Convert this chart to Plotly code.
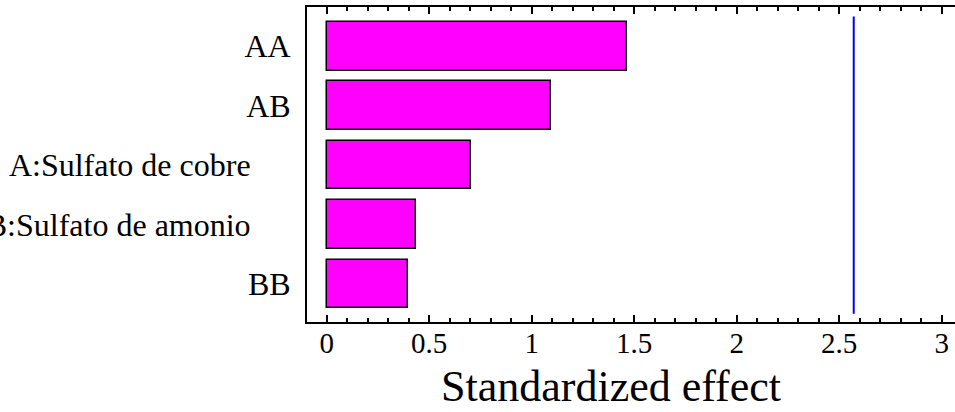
import plotly.graph_objects as go

# ---- data ----
terms = ["AA", "AB", "A:Sulfato de cobre", "B:Sulfato de amonio", "BB"]
effects = [1.463, 1.093, 0.704, 0.435, 0.398]
t_critical = 2.571
x_tick_values = [0, 0.5, 1, 1.5, 2, 2.5, 3]
x_tick_labels = ["0", "0.5", "1", "1.5", "2", "2.5", "3"]
x_title = "Standardized effect"

SERIF = "'Liberation Serif', 'Times New Roman', Times, serif"

# long labels are right-aligned further left in the original
pad = "\u00a0" * 5
y_tick_text = [t + pad if len(t) > 4 else t for t in terms]

fig = go.Figure()
fig.add_trace(go.Bar(
    x=effects, y=terms, orientation="h", width=0.82,
    marker=dict(color="#ff00ff", line=dict(color="black", width=1.5)),
    showlegend=False, hoverinfo="x+y",
))
# invisible helper trace so the top (mirrored) axis is drawn
fig.add_trace(go.Scatter(x=[x_tick_values[0]], y=[terms[0]], xaxis="x2", yaxis="y",
                         mode="markers", marker=dict(opacity=0),
                         showlegend=False, hoverinfo="skip"))

fig.add_shape(type="line", xref="x", yref="y",
              x0=t_critical, x1=t_critical, y0=-0.5, y1=len(terms) - 0.5,
              line=dict(color="#0000ff", width=2))

fig.update_layout(
    width=955, height=412,
    margin=dict(l=307, r=0, t=7, b=90),
    plot_bgcolor="white", paper_bgcolor="white",
    font=dict(family=SERIF, color="black"),
    bargap=0,
)

common_x = dict(
    range=[-0.096, 3.065],
    tickvals=x_tick_values,
    ticks="inside", ticklen=7, tickwidth=2, tickcolor="black",
    showline=True, linecolor="black", linewidth=2,
    showgrid=False, zeroline=False,
    minor=dict(dtick=0.1, ticks="inside", ticklen=4, tickwidth=2,
               tickcolor="black", showgrid=False),
)

fig.update_layout(
    xaxis=dict(**common_x, ticktext=x_tick_labels,
               tickfont=dict(size=29, family=SERIF, color="black"),
               ticklabelstandoff=-6),
    xaxis2=dict(**common_x, overlaying="x", side="top", anchor="y",
                showticklabels=False),
)

fig.update_yaxes(
    type="category", categoryorder="array", categoryarray=terms,
    range=[4.64, -0.66],
    tickvals=terms, ticktext=y_tick_text,
    tickfont=dict(size=32, family=SERIF, color="black"),
    ticks="", showline=True, linecolor="black", linewidth=2, mirror=False,
    showgrid=False, zeroline=False, automargin=False,
    ticklabelstandoff=8,
)

fig.add_annotation(
    text=x_title, xref="paper", yref="paper",
    x=(611 - 307) / 648, y=-(91) / 315, xanchor="center", yanchor="bottom",
    showarrow=False, font=dict(size=44, family=SERIF, color="black"),
)

fig.write_html("out.html")
